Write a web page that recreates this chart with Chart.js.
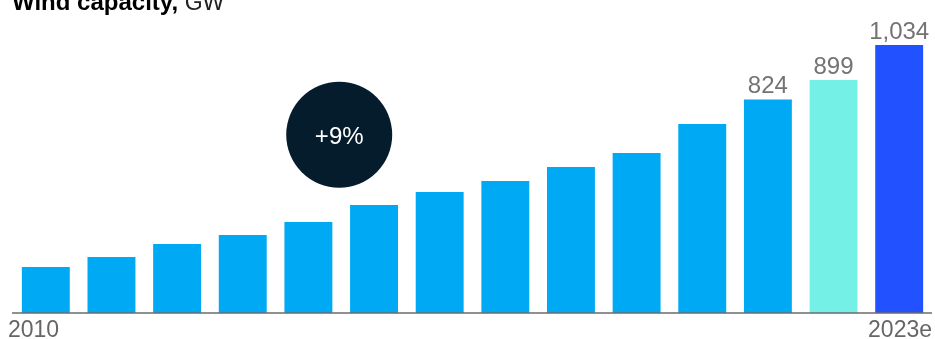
<!DOCTYPE html>
<html>
<head>
<meta charset="utf-8">
<title>Wind capacity, GW</title>
<script src="https://cdn.jsdelivr.net/npm/chart.js@4"></script>
<style>
  html, body { margin: 0; padding: 0; background: #fff; }
  #wrap { position: relative; width: 935px; height: 339px; }
</style>
</head>
<body>
<div id="wrap"><canvas id="windChart"></canvas></div>
<script>
// Installed wind capacity per year, GW
const years = ['2010', '2011', '2012', '2013', '2014', '2015', '2016',
               '2017', '2018', '2019', '2020', '2021', '2022', '2023e'];
const capacity = [177, 216, 266, 301, 351, 417, 467, 509, 563, 617, 729, 824, 899, 1034];
const labeledYears = ['2021', '2022', '2023e'];
const growthLabel = '+9%';

const FONT = '"Liberation Sans", Arial, sans-serif';
const barColors = years.map(y => {
    if (y === '2023e') return '#2251ff';
    if (y === '2022') return '#75f0e6';
    return '#00a9f4';
});

// draws the title, baseline, end labels, value labels and the growth bubble
const decorations = {
    id: 'decorations',
    afterDatasetsDraw(chart) {
        const { ctx, chartArea, scales } = chart;
        const meta = chart.getDatasetMeta(0);
        ctx.save();

        // title, partly above the canvas edge
        ctx.textBaseline = 'alphabetic';
        ctx.textAlign = 'left';
        ctx.fillStyle = '#000';
        ctx.font = 'bold 24px ' + FONT;
        const boldPart = 'Wind capacity,';
        ctx.fillText(boldPart, 12, 10);
        const w = ctx.measureText(boldPart + ' ').width;
        ctx.fillStyle = '#222';
        ctx.font = '23px ' + FONT;
        ctx.fillText('GW', 12 + w, 10);

        // baseline
        const base = scales.y.getPixelForValue(0);
        ctx.strokeStyle = '#6b6b6b';
        ctx.lineWidth = 1.5;
        ctx.beginPath();
        ctx.moveTo(12, base);
        ctx.lineTo(chartArea.right, base);
        ctx.stroke();

        // first and last year under the axis
        ctx.fillStyle = '#666';
        ctx.font = '23px ' + FONT;
        ctx.textAlign = 'left';
        ctx.fillText(years[0], 8, 337);
        ctx.textAlign = 'right';
        ctx.fillText(years[years.length - 1], 932, 337);

        // value labels above the latest bars
        ctx.textAlign = 'center';
        ctx.font = '24px ' + FONT;
        ctx.fillStyle = '#737373';
        years.forEach((y, i) => {
            if (!labeledYears.includes(y)) return;
            const bar = meta.data[i];
            ctx.fillText(capacity[i].toLocaleString('en-US'), bar.x, bar.y - 6);
        });

        // growth bubble between 2014 and 2015
        const cx = (scales.x.getPixelForTick(4) + scales.x.getPixelForTick(5)) / 2 - 2;
        const cy = scales.y.getPixelForValue(688);
        ctx.fillStyle = '#051c2c';
        ctx.beginPath();
        ctx.arc(cx, cy, 53, 0, Math.PI * 2);
        ctx.fill();
        ctx.fillStyle = '#fff';
        ctx.font = '24px ' + FONT;
        ctx.textBaseline = 'middle';
        ctx.fillText(growthLabel, cx, cy + 3);

        ctx.restore();
    }
};

document.addEventListener('DOMContentLoaded', () => {
    const ctx = document.getElementById('windChart').getContext('2d');
    new Chart(ctx, {
        type: 'bar',
        data: {
            labels: years,
            datasets: [{
                data: capacity,
                backgroundColor: barColors,
                borderWidth: 0,
                categoryPercentage: 1,
                barPercentage: 0.73
            }]
        },
        options: {
            responsive: true,
            maintainAspectRatio: false,
            animation: false,
            layout: { padding: { left: 13, right: 3, top: 45, bottom: 26 } },
            plugins: {
                legend: { display: false },
                tooltip: { enabled: false },
                title: { display: false }
            },
            scales: {
                x: { display: false },
                y: { display: false, min: 0, max: 1034 }
            }
        },
        plugins: [decorations]
    });
});
</script>
</body>
</html>
